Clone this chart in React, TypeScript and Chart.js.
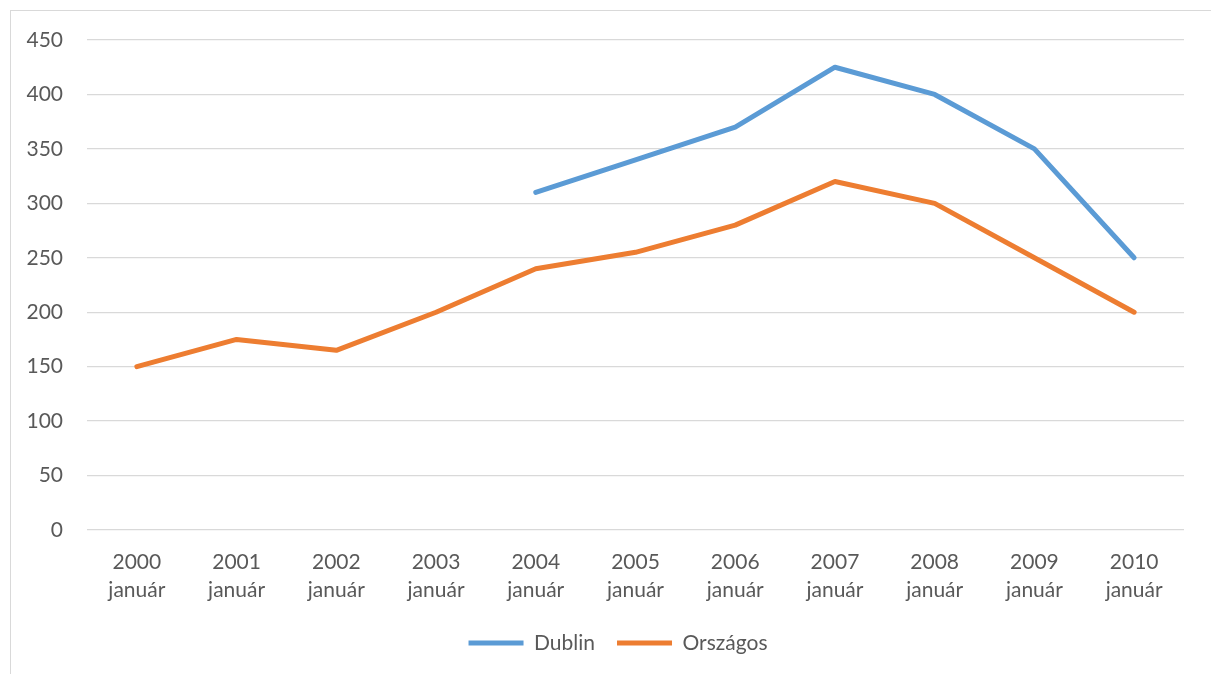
import React, { useEffect, useRef } from "react";
import { Chart, registerables } from "chart.js";

Chart.register(...registerables);

const years = ["2000", "2001", "2002", "2003", "2004", "2005", "2006", "2007", "2008", "2009", "2010"];
const monthLabel = "január";
const dublin = [null, null, null, null, 310, 340, 370, 425, 400, 350, 250];
const orszagos = [150, 175, 165, 200, 240, 255, 280, 320, 300, 250, 200];
const yTicks = [0, 50, 100, 150, 200, 250, 300, 350, 400, 450];

const TEXT = "#595959";
const FONT = "Lato";

const shiftLegend = {
  id: "shiftLegend",
  afterLayout(chart: any) {
    const lg = chart.legend;
    if (lg) {
      lg.left += 26;
      lg.right += 26;
    }
  },
};

export default function App() {
  const ref = useRef<HTMLCanvasElement>(null);

  useEffect(() => {
    if (!ref.current) return;
    const chart = new Chart(ref.current, {
      type: "line",
      data: {
        labels: years.map((y) => [y, monthLabel]),
        datasets: [
          {
            label: "Dublin",
            data: dublin,
            borderColor: "#5B9BD5",
            backgroundColor: "#5B9BD5",
            borderWidth: 5,
            borderCapStyle: "round",
            borderJoinStyle: "round",
            pointRadius: 0,
            pointHoverRadius: 0,
            tension: 0,
          },
          {
            label: "Országos",
            data: orszagos,
            borderColor: "#ED7D31",
            backgroundColor: "#ED7D31",
            borderWidth: 5,
            borderCapStyle: "round",
            borderJoinStyle: "round",
            pointRadius: 0,
            pointHoverRadius: 0,
            tension: 0,
          },
        ],
      },
      plugins: [shiftLegend],
      options: {
        animation: false,
        responsive: false,
        maintainAspectRatio: false,
        layout: { padding: { left: 0, right: 27, top: 40, bottom: 0.5 } },
        font: { family: FONT, size: 21 },
        plugins: {
          tooltip: { enabled: false },
          legend: {
            position: "bottom",
            labels: {
              usePointStyle: true,
              pointStyle: "line",
              pointStyleWidth: 55,
              padding: 22,
              color: TEXT,
              font: { family: FONT, size: 21 },
            },
          },
        },
        scales: {
          x: {
            offset: true,
            grid: { display: false, drawTicks: false },
            border: { display: false },
            ticks: {
              color: TEXT,
              padding: 19,
              maxRotation: 0,
              autoSkip: false,
              font: { family: FONT, size: 21, lineHeight: 1.3 },
            },
            afterFit: (s: any) => {
              s.height = 80.5;
            },
          },
          y: {
            min: 0,
            max: 450,
            afterBuildTicks: (s: any) => {
              s.ticks = yTicks.map((v) => ({ value: v }));
            },
            grid: { color: "#D9D9D9", lineWidth: 1.3, drawTicks: false },
            border: { display: false },
            ticks: {
              color: TEXT,
              padding: 24,
              font: { family: FONT, size: 21 },
            },
            afterFit: (s: any) => {
              s.width = 87;
            },
          },
        },
      },
    });
    return () => chart.destroy();
  }, []);

  return (
    <div
      style={{
        position: "fixed",
        left: 0,
        top: 0,
        width: 1211,
        height: 674,
        overflow: "hidden",
        background: "#fff",
      }}
    >
      <div
        style={{
          position: "absolute",
          left: 10,
          top: 10,
          width: 1220,
          height: 690,
          border: "1px solid #D9D9D9",
          boxSizing: "border-box",
        }}
      />
      <canvas
        ref={ref}
        width={1211}
        height={664}
        style={{ position: "absolute", left: 0, top: 0, width: 1211, height: 664 }}
      />
    </div>
  );
}
